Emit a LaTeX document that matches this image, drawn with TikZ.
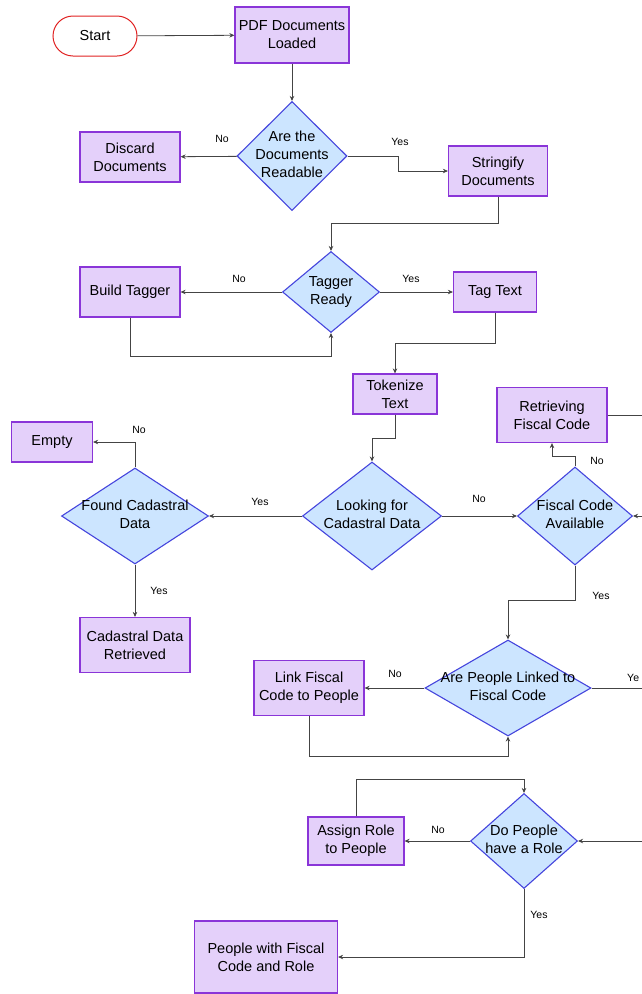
\documentclass[tikz,border=0pt]{standalone}
\usepackage{fontspec}
\setmainfont{Liberation Sans}
\usetikzlibrary{arrows.meta,shapes.geometric}

\definecolor{boxfill}{HTML}{E4D0FA}
\definecolor{boxline}{HTML}{8A35D8}
\definecolor{decfill}{HTML}{CCE5FF}
\definecolor{decline}{HTML}{4545DD}
\definecolor{startline}{HTML}{E02222}
\definecolor{wire}{HTML}{444444}

% text of a decision, kept out of the diamond's size
\newcommand{\dtxt}[1]{\makebox[0pt]{\begin{tabular}{@{}c@{}}#1\end{tabular}}}

\begin{document}
\begin{tikzpicture}[x=1pt, y=-1pt,
    box/.style={draw=boxline, fill=boxfill, line width=1.2pt, inner sep=0pt,
      align=center, font=\fontsize{14.5}{18}\selectfont},
    dec/.style={diamond, draw=decline, fill=decfill, line width=1.1pt, inner sep=0pt,
      font=\fontsize{14.5}{18}\selectfont},
    wire/.style={draw=wire, line width=0.8pt},
    arr/.style={wire, -{Stealth[length=5pt,width=4.5pt]}},
    yn/.style={font=\fontsize{10.5}{12}\selectfont, inner sep=0pt}]
      \useasboundingbox (0,0) rectangle (641,994);

      \node[draw=startline, line width=1pt, rounded corners=20pt, minimum width=84pt,
        minimum height=40pt, font=\fontsize{14.5}{18}\selectfont] (start) at (95,36) {Start};
      \node[box, minimum width=114pt, minimum height=56pt] (pdf) at (292,35) {PDF Documents\\Loaded};
      \node[dec, minimum width=110pt, minimum height=109pt] (readable) at (292,156) {\dtxt{Are the\\Documents\\Readable}};
      \node[box, minimum width=100pt, minimum height=50pt] (discard) at (130,157) {Discard\\Documents};
      \node[box, minimum width=99pt, minimum height=50pt] (stringify) at (498,171) {Stringify\\Documents};

      \node[dec, minimum width=97pt, minimum height=81pt] (tagready) at (331,292) {\dtxt{Tagger\\Ready}};
      \node[box, minimum width=100pt, minimum height=50pt] (buildtag) at (130,292) {Build Tagger};
      \node[box, minimum width=83pt, minimum height=40pt] (tagtext) at (495,292) {Tag Text};
      \node[box, minimum width=84pt, minimum height=40pt] (tokenize) at (395,394) {Tokenize\\Text};

      \node[dec, minimum width=139pt, minimum height=108pt] (looking) at (372,516) {\dtxt{Looking for\\Cadastral Data}};
      \node[dec, minimum width=147pt, minimum height=96pt] (found) at (135,516) {\dtxt{Found Cadastral\\Data}};
      \node[box, minimum width=81pt, minimum height=40pt] (empty) at (52,442) {Empty};
      \node[box, minimum width=110pt, minimum height=55pt] (cadret) at (135,645) {Cadastral Data\\Retrieved};
      \node[dec, minimum width=115pt, minimum height=98pt] (fiscal) at (575,516) {\dtxt{Fiscal Code\\Available}};
      \node[box, minimum width=110pt, minimum height=55pt] (retrieving) at (552,415) {Retrieving\\Fiscal Code};

      \node[dec, minimum width=166pt, minimum height=96pt] (linked) at (508,688) {\dtxt{Are People Linked to\\Fiscal Code}};
      \node[box, minimum width=110pt, minimum height=55pt] (linkfc) at (309,688) {Link Fiscal\\Code to People};
      \node[dec, minimum width=107pt, minimum height=95pt] (role) at (524,841) {\dtxt{Do People\\have a Role}};
      \node[box, minimum width=96pt, minimum height=48pt] (assign) at (356,841) {Assign Role\\to People};
      \node[box, minimum width=143pt, minimum height=72pt] (final) at (266,957) {People with Fiscal\\Code and Role};

      \coordinate (outA) at (645,415);
      \coordinate (outB) at (645,516);
      \coordinate (outC) at (645,688);
      \coordinate (outD) at (645,841);

      \draw[arr] (start) -- (pdf);
      \draw[arr] (pdf) -- (readable);
      \draw[arr] (readable) -- (discard);
      \node[yn] at (222,139) {No};
      \draw[arr] (readable.east) -- (398,156) -- (398,171) -- (stringify.west);
      \node[yn] at (400,142) {Yes};
      \draw[arr] (stringify.south) -- (498,223) -| (tagready.north);

      \draw[arr] (tagready) -- (buildtag);
      \node[yn] at (239,279) {No};
      \draw[arr] (tagready) -- (tagtext);
      \node[yn] at (411,279) {Yes};
      \draw[arr] (buildtag.south) -- (130,356) -| (tagready.south);
      \draw[arr] (tagtext.south) -- (495,343) -| (tokenize.north);
      \draw[arr] (tokenize.south) -- (395,438) -| (looking.north);

      \draw[arr] (looking) -- (found);
      \node[yn] at (260,502) {Yes};
      \draw[arr] (found.north) |- (empty.east);
      \node[yn] at (139,430) {No};
      \draw[arr] (found) -- (cadret);
      \node[yn] at (159,591) {Yes};
      \draw[arr] (looking) -- (fiscal);
      \node[yn] at (479,499) {No};
      \draw[arr] (fiscal.north) -- (575,456) -| (retrieving.south);
      \node[yn] at (597,461) {No};
      \draw[wire] (retrieving.east) -- (outA);
      \draw[arr] (outB) -- (fiscal.east);

      \draw[arr] (fiscal.south) -- (575,600) -| (linked.north);
      \node[yn] at (601,596) {Yes};
      \draw[arr] (linked) -- (linkfc);
      \node[yn] at (395,674) {No};
      \draw[arr] (linkfc.south) -- (309,756) -| (linked.south);
      \draw[wire] (linked.east) -- (outC);
      \node[yn, anchor=west] at (627,678) {Ye};

      \draw[arr] (outD) -- (role.east);
      \draw[arr] (role) -- (assign);
      \node[yn] at (438,830) {No};
      \draw[arr] (assign.north) -- (356,779) -| (role.north);
      \draw[arr] (role.south) |- (final.east);
      \node[yn] at (539,915) {Yes};

    \end{tikzpicture}
\end{document}
